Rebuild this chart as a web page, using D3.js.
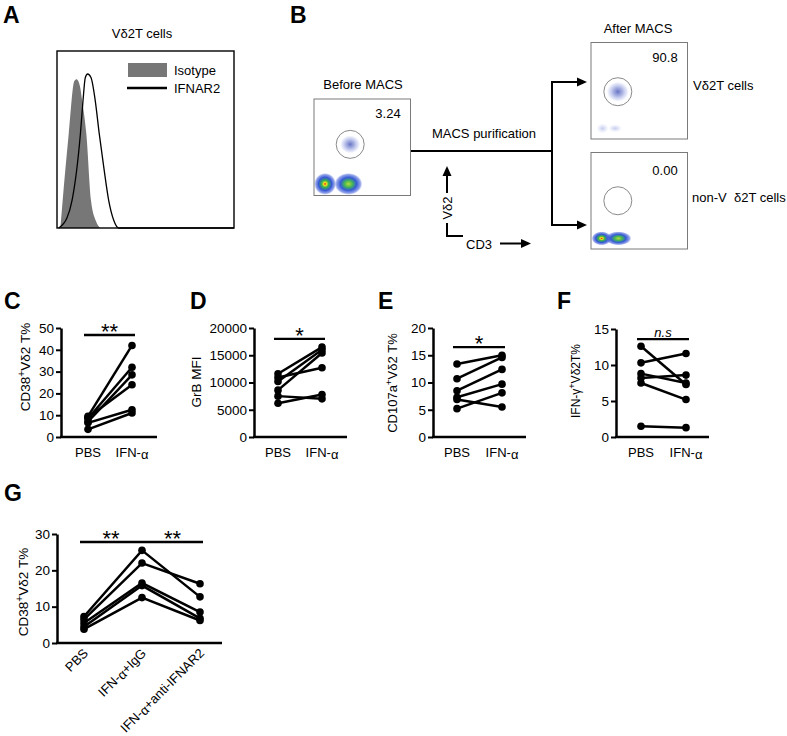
<!DOCTYPE html>
<html>
<head>
<meta charset="utf-8">
<script src="https://cdn.jsdelivr.net/npm/d3@7"></script>
<style>
  body { margin: 0; background: #fff; }
  svg { font-family: "Liberation Sans", Arial, sans-serif; }
</style>
</head>
<body>
<svg id="fig" width="787" height="736"></svg>
<script>
// ---------- data ----------
// A: histogram, x = % of log fluorescence axis, y = % of max count
const isoX = [1.9, 3.2, 6.6, 9.8, 11.1, 13, 14.2, 16.6, 19.2, 22, 24.5];
const isoY = [0, 15.6, 53, 83, 84, 80, 72, 53, 15.6, 4, 0];
const ifnarX = [0.9, 5.6, 8.5, 13.2, 14.7, 16, 17.3, 19.2, 21.6, 23.9, 26.4, 29.2, 32, 34.8, 100];
const ifnarY = [0, 5.6, 15.6, 53, 72, 85, 87, 85, 72, 53, 34.5, 15.6, 4.5, 0, 0];

// B: gate percentages
const gateLabels = ["3.24", "90.8", "0.00"];

// C-F: paired donors, PBS vs IFN-a
const pairCats = ["PBS", "IFN-α"];
const cd38Pbs = [9.5, 8.5, 7.0, 9.0, 6.5, 3.5];
const cd38Ifn = [42.0, 32.0, 28.5, 24.0, 12.5, 11.0];
const grbPbs = [11600, 10900, 10200, 8600, 7500, 6200];
const grbIfn = [16500, 12700, 16000, 15400, 7000, 7800];
const cd107Pbs = [13.4, 10.7, 8.5, 7.3, 6.9, 5.2];
const cd107Ifn = [15.0, 14.6, 12.4, 9.7, 5.5, 8.1];
const ifngPbs = [12.6, 10.3, 8.8, 8.2, 7.5, 1.5];
const ifngIfn = [7.3, 11.6, 7.5, 8.6, 5.2, 1.3];

// G: three conditions
const gCats = ["PBS", "IFN-α+IgG", "IFN-α+anti-IFNAR2"];
const gPbs = [7.3, 6.5, 5.5, 4.5, 3.8];
const gIgg = [25.5, 22.0, 16.5, 15.8, 12.5];
const gAnti = [12.7, 16.3, 8.5, 6.8, 6.2];

// significance marks
const sigC = ["**"], sigD = ["*"], sigE = ["*"], sigF = ["n.s"], sigG = ["**", "**"];

// ---------- drawing ----------
const svg = d3.select("#fig");
const defs = svg.append("defs");

function letter(t, x, y) {
  svg.append("text").attr("x", x).attr("y", y).attr("font-size", 23)
    .attr("font-weight", "bold").text(t);
}

function txt(t, x, y, size, anchor) {
  return svg.append("text").attr("x", x).attr("y", y)
    .attr("font-size", size || 13).attr("text-anchor", anchor || "start").text(t);
}

// ----- A -----
letter("A", 3, 23);
txt("Vδ2T cells", 142, 38, 13, "middle");
{
  const x = d3.scaleLinear().domain([0, 100]).range([57, 234]);
  const y = d3.scaleLinear().domain([0, 100]).range([228, 51]);
  const iso = d3.zip(isoX, isoY);
  const ifn = d3.zip(ifnarX, ifnarY);
  svg.append("path")
    .attr("d", d3.area().x(d => x(d[0])).y0(y(0)).y1(d => y(d[1])).curve(d3.curveMonotoneX)(iso))
    .attr("fill", "#777");
  svg.append("path")
    .attr("d", d3.line().x(d => x(d[0])).y(d => y(d[1])).curve(d3.curveMonotoneX)(ifn))
    .attr("fill", "none").attr("stroke", "#000").attr("stroke-width", 1.3);
  svg.append("rect").attr("x", 57).attr("y", 51).attr("width", 177).attr("height", 177)
    .attr("fill", "none").attr("stroke", "#000").attr("stroke-width", 1.4);
  // legend
  svg.append("rect").attr("x", 128).attr("y", 63).attr("width", 39).attr("height", 14).attr("fill", "#777");
  txt("Isotype", 174, 75, 13);
  svg.append("line").attr("x1", 127).attr("x2", 167).attr("y1", 88).attr("y2", 88)
    .attr("stroke", "#000").attr("stroke-width", 2.5);
  txt("IFNAR2", 174, 93, 13);
}

// ----- B -----
letter("B", 290, 23);

function radial(id, stops) {
  const gr = defs.append("radialGradient").attr("id", id);
  stops.forEach(s => gr.append("stop").attr("offset", s[0])
    .attr("stop-color", s[1]).attr("stop-opacity", s[2]));
}
radial("hot", [[0, "#e2231c", 1], [0.14, "#f2de22", 1], [0.32, "#35b34d", 1], [0.6, "#2c4fd4", 0.95], [0.85, "#4a66da", 0.6], [1, "#6a80e0", 0]]);
radial("warm", [[0, "#b6da36", 1], [0.3, "#41b659", 1], [0.58, "#2b52d2", 0.95], [0.85, "#4a66da", 0.6], [1, "#6a80e0", 0]]);
radial("cool", [[0, "#3444b0", 0.75], [0.45, "#5a6cc8", 0.5], [0.8, "#8a98e0", 0.25], [1, "#a0aae6", 0]]);
radial("faint", [[0, "#6f7fd6", 0.4], [1, "#9aa6e6", 0]]);

// populations in % of each plot's axes
function flowPlot(bx, by, label, gate, pops) {
  const s = 96.5;
  const x = d3.scaleLinear().domain([0, 100]).range([bx, bx + s]);
  const y = d3.scaleLinear().domain([0, 100]).range([by + s, by]);
  pops.forEach(p => {
    svg.append("ellipse").attr("cx", x(p[0])).attr("cy", y(p[1]))
      .attr("rx", p[2]).attr("ry", p[3]).attr("fill", `url(#${p[4]})`);
  });
  svg.append("circle").attr("cx", x(gate[0])).attr("cy", y(gate[1])).attr("r", 14)
    .attr("fill", "none").attr("stroke", "#8a8a8a").attr("stroke-width", 1);
  svg.append("rect").attr("x", bx).attr("y", by).attr("width", s).attr("height", s)
    .attr("fill", "none").attr("stroke", "#7a7a7a").attr("stroke-width", 1);
  txt(label, bx + 74, by + 19, 13, "middle");
}

txt("Before MACS", 363, 89, 13, "middle");
flowPlot(314, 99, gateLabels[0], [37.5, 53],
  [[11.5, 12, 11, 11, "hot"], [35.7, 12, 14, 11, "warm"], [37.5, 53, 10, 9, "cool"]]);

txt("After MACS", 638, 33, 13, "middle");
flowPlot(591, 42.5, gateLabels[1], [27.8, 49],
  [[27.8, 49, 11, 10, "cool"], [12, 11, 6, 5, "faint"], [25, 11, 7, 4, "faint"]]);
flowPlot(591, 152.5, "", [27.8, 50],
  [[11, 11, 10, 7, "hot"], [28.4, 11, 13, 7, "warm"]]);
txt(gateLabels[2], 665, 175, 13, "middle");

txt("Vδ2T cells", 693, 90, 13);
txt("non-V  δ2T cells", 692, 202, 13).style("white-space", "pre");

// purification arrows
function arrowHead(tipX, tipY, dir) {
  const L = 10, W = 4.5;
  let pts;
  if (dir === "right") pts = [[tipX, tipY], [tipX - L, tipY - W], [tipX - L, tipY + W]];
  else pts = [[tipX, tipY], [tipX - W, tipY + L], [tipX + W, tipY + L]];
  svg.append("polygon").attr("points", pts.map(p => p.join(",")).join(" ")).attr("fill", "#000");
}
const stroke = (d, w) => svg.append("path").attr("d", d).attr("fill", "none")
  .attr("stroke", "#000").attr("stroke-width", w || 2);

stroke("M411,151 H552");
stroke("M552,82 V225");
stroke("M551,82 H578");
stroke("M551,225 H578");
arrowHead(587, 82, "right");
arrowHead(587, 225, "right");
txt("MACS purification", 484, 138, 13, "middle");

// axis key
stroke("M447,223 V236 H463");
stroke("M447,193 V174");
arrowHead(447, 166, "up");
svg.append("text").attr("transform", "translate(452,208) rotate(-90)")
  .attr("font-size", 13).attr("text-anchor", "middle").text("Vδ2");
txt("CD3", 466, 249, 13);
stroke("M500,243.5 H522");
arrowHead(531, 243.5, "right");

// ----- C to G -----
function yLabel(parts, x, y, size) {
  const t = svg.append("text").attr("transform", `translate(${x},${y}) rotate(-90)`)
    .attr("font-size", size).attr("text-anchor", "middle");
  t.append("tspan").text(parts[0]);
  if (parts.length > 1) {
    t.append("tspan").attr("baseline-shift", "super").attr("font-size", size * 0.75).text("+");
    t.append("tspan").text(parts[1]);
  }
}

function catText(sel, name) {
  const i = name.indexOf("α");
  if (i < 0) { sel.text(name); return; }
  sel.append("tspan").text(name.slice(0, i));
  sel.append("tspan").attr("dy", 1.5).text("α");
  if (i + 1 < name.length) sel.append("tspan").attr("dy", -1.5).text(name.slice(i + 1));
}

function paired(p) {
  const y = d3.scaleLinear().domain([0, p.max]).range([p.bottom, p.top]);
  const x = d3.scalePoint().domain(p.cats).range(p.catRange);
  const g = svg.append("g");

  g.append("line").attr("x1", p.left - 1).attr("x2", p.right)
    .attr("y1", p.bottom).attr("y2", p.bottom).attr("stroke", "#000").attr("stroke-width", 2.5);
  g.append("g").attr("transform", `translate(${p.left},0)`)
    .call(d3.axisLeft(y).tickValues(d3.range(0, p.max + 1e-9, p.step)).tickFormat(d3.format("d"))
      .tickSize(5).tickSizeOuter(0).tickPadding(2))
    .call(a => a.select(".domain").attr("stroke-width", 2.5))
    .call(a => a.selectAll(".tick line").attr("stroke-width", 2))
    .call(a => a.selectAll(".tick text").attr("font-size", 13.5).attr("font-family", "Liberation Sans, Arial, sans-serif"));

  const line = d3.line().x(d => x(d[0])).y(d => y(d[1]));
  p.series[0].forEach((_, i) => {
    const pts = p.cats.map((c, k) => [c, p.series[k][i]]);
    g.append("path").attr("d", line(pts)).attr("fill", "none")
      .attr("stroke", "#000").attr("stroke-width", 2.5);
    pts.forEach(pt => g.append("circle").attr("cx", x(pt[0])).attr("cy", y(pt[1]))
      .attr("r", 3.8).attr("fill", "#000"));
  });

  // significance bars
  p.sig.forEach((s, k) => {
    const x1 = x(p.cats[p.sigPairs[k][0]]) - (k === 0 ? 4 : 0);
    const x2 = x(p.cats[p.sigPairs[k][1]]) + (k === p.sig.length - 1 ? 3 : 0);
    const yy = y(p.sigLevel);
    g.append("line").attr("x1", x1).attr("x2", x2).attr("y1", yy).attr("y2", yy)
      .attr("stroke", "#000").attr("stroke-width", 2.4);
    const italic = s === "n.s";
    g.append("text").attr("x", (x1 + x2) / 2).attr("y", italic ? yy - 2.5 : yy + 4)
      .attr("text-anchor", "middle").attr("font-size", italic ? 13 : 22)
      .attr("font-style", italic ? "italic" : "normal").text(s);
  });

  // category labels
  p.cats.forEach(c => {
    if (p.rotate) {
      const t = g.append("text")
        .attr("transform", `translate(${x(c) + 5},${p.bottom + 11}) rotate(-45)`)
        .attr("font-size", 13).attr("text-anchor", "end");
      catText(t, c);
    } else {
      const t = g.append("text").attr("x", x(c)).attr("y", p.bottom + 20)
        .attr("font-size", 13).attr("text-anchor", "middle");
      catText(t, c);
    }
  });

  yLabel(p.label, p.labelX, p.labelY, p.labelSize || 13.5);
}

letter("C", 4, 309);
paired({ left: 61, right: 157, top: 328, bottom: 437, max: 50, step: 10,
  cats: pairCats, catRange: [88, 132], series: [cd38Pbs, cd38Ifn],
  sig: sigC, sigPairs: [[0, 1]], sigLevel: 46.8,
  label: ["CD38", "Vδ2 T%"], labelX: 30, labelY: 367 });

letter("D", 190, 309);
paired({ left: 254, right: 347, top: 328, bottom: 437, max: 20000, step: 5000,
  cats: pairCats, catRange: [278, 322], series: [grbPbs, grbIfn],
  sig: sigD, sigPairs: [[0, 1]], sigLevel: 18000,
  label: ["GrB MFI"], labelX: 201, labelY: 382 });

letter("E", 378, 309);
paired({ left: 433, right: 526, top: 328, bottom: 437, max: 20, step: 5,
  cats: pairCats, catRange: [457, 502], series: [cd107Pbs, cd107Ifn],
  sig: sigE, sigPairs: [[0, 1]], sigLevel: 16.5,
  label: ["CD107a", "Vδ2 T%"], labelX: 397, labelY: 383, labelSize: 13 });

letter("F", 557, 309);
paired({ left: 616, right: 709, top: 329, bottom: 437, max: 15, step: 5,
  cats: pairCats, catRange: [641, 686], series: [ifngPbs, ifngIfn],
  sig: sigF, sigPairs: [[0, 1]], sigLevel: 13.6,
  label: ["IFN-γ", "Vδ2T%"], labelX: 580, labelY: 381, labelSize: 12 });

letter("G", 4, 501);
paired({ left: 57, right: 222, top: 534, bottom: 643, max: 30, step: 10,
  cats: gCats, catRange: [84, 200], series: [gPbs, gIgg, gAnti],
  sig: sigG, sigPairs: [[0, 1], [1, 2]], sigLevel: 27.8, rotate: true,
  label: ["CD38", "Vδ2 T%"], labelX: 28, labelY: 592 });
</script>
</body>
</html>
